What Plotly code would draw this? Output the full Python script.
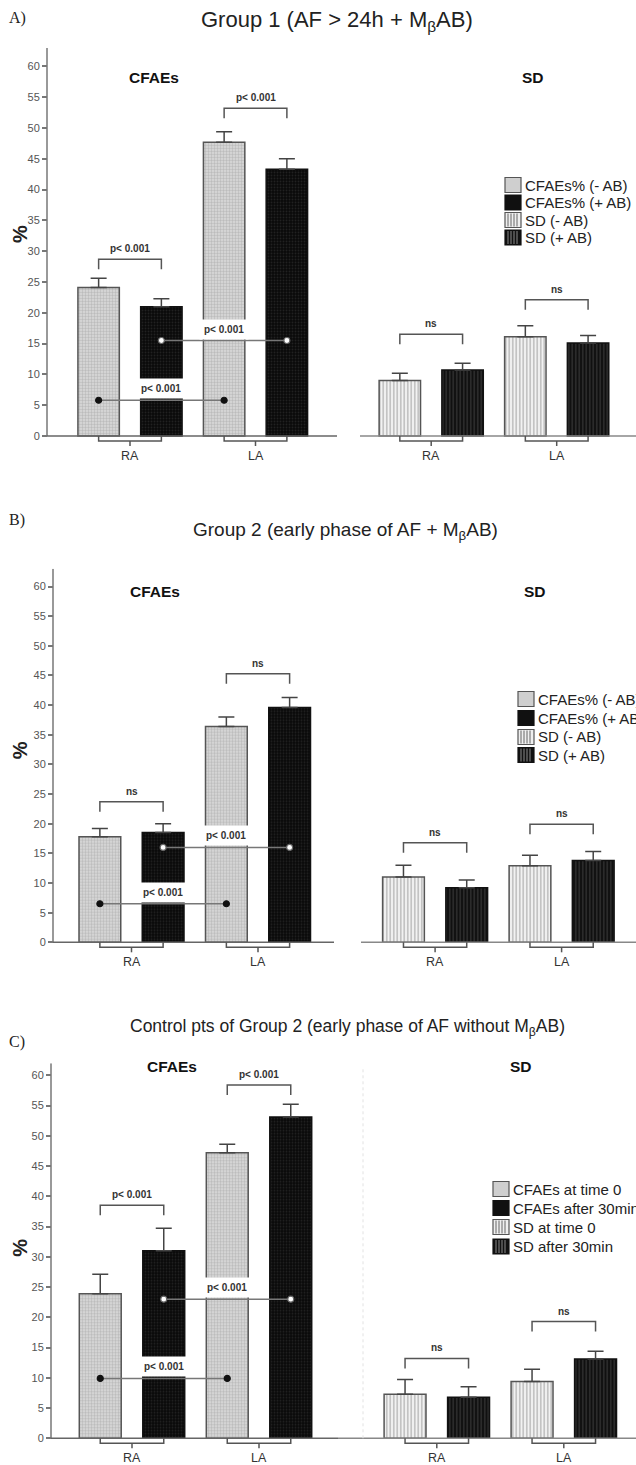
import plotly.graph_objects as go

W, H = 636, 1465
FONT = "Liberation Sans, Arial, sans-serif"

# ---------------- data ----------------
sites = ["RA", "LA"]

# Panel A: Group 1 (AF > 24h + MβAB)
a_cfae_minus = [24.1, 47.7]
a_cfae_minus_err = [1.5, 1.7]
a_cfae_plus = [21.0, 43.3]
a_cfae_plus_err = [1.3, 1.7]
a_sd_minus = [9.0, 16.1]
a_sd_minus_err = [1.2, 1.8]
a_sd_plus = [10.7, 15.1]
a_sd_plus_err = [1.1, 1.2]
a_cfae_pair_p = ["p< 0.001", "p< 0.001"]
a_sd_pair_p = ["ns", "ns"]
a_site_p = ["p< 0.001", "p< 0.001"]   # RA vs LA for (-) and (+) series

# Panel B: Group 2 (early phase of AF + MβAB)
b_cfae_minus = [17.8, 36.4]
b_cfae_minus_err = [1.4, 1.6]
b_cfae_plus = [18.5, 39.6]
b_cfae_plus_err = [1.5, 1.7]
b_sd_minus = [11.0, 12.9]
b_sd_minus_err = [2.0, 1.8]
b_sd_plus = [9.2, 13.8]
b_sd_plus_err = [1.3, 1.5]
b_cfae_pair_p = ["ns", "ns"]
b_sd_pair_p = ["ns", "ns"]
b_site_p = ["p< 0.001", "p< 0.001"]

# Panel C: Control pts of Group 2
c_cfae_minus = [23.9, 47.2]
c_cfae_minus_err = [3.2, 1.4]
c_cfae_plus = [31.0, 53.1]
c_cfae_plus_err = [3.7, 2.1]
c_sd_minus = [7.3, 9.4]
c_sd_minus_err = [2.4, 2.0]
c_sd_plus = [6.8, 13.1]
c_sd_plus_err = [1.7, 1.3]
c_cfae_pair_p = ["p< 0.001", "p< 0.001"]
c_sd_pair_p = ["ns", "ns"]
c_site_p = ["p< 0.001", "p< 0.001"]

legend_a = ["CFAEs% (- AB)", "CFAEs% (+ AB)", "SD (- AB)", "SD (+ AB)"]
legend_c = ["CFAEs at time 0", "CFAEs after 30min", "SD at time 0", "SD after 30min"]

# ---------------- layout constants ----------------
CFAE_POS = [0.0, 1.0]
SD_POS = [2.4, 3.4]
BW = 0.33
OFFS = [-0.415, 0.085]
HALF = 0.25  # centre of each bar relative to group centre

panels = [
    dict(tag="A)", title="Group 1 (AF > 24h + M<sub>β</sub>AB)", title_size=22,
         data=[(a_cfae_minus, a_cfae_minus_err), (a_cfae_plus, a_cfae_plus_err),
               (a_sd_minus, a_sd_minus_err), (a_sd_plus, a_sd_plus_err)],
         names=legend_a, cfae_p=a_cfae_pair_p, sd_p=a_sd_pair_p, site_p=a_site_p,
         cfae_br=[28.7, 53.2], sd_br=[16.5, 22.1], conn=[5.8, 15.5],
         zero_px=436, ppu=6.16, top=63, bottom=-5.5, c0=130, unit=125.5, axis_px=47,
         base_l=337, base_r=360, dotted=None,
         title_xy=(337, 21), tag_xy=(17, 18), cf_xy=(154, 78), sd_xy=(533, 78),
         pct_v=32.8, leg_x=505, leg_y=[185, 202.5, 220, 237.5]),
    dict(tag="B)", title="Group 2 (early phase of AF + M<sub>β</sub>AB)", title_size=19,
         data=[(b_cfae_minus, b_cfae_minus_err), (b_cfae_plus, b_cfae_plus_err),
               (b_sd_minus, b_sd_minus_err), (b_sd_plus, b_sd_plus_err)],
         names=legend_a, cfae_p=b_cfae_pair_p, sd_p=b_sd_pair_p, site_p=b_site_p,
         cfae_br=[23.7, 45.3], sd_br=[16.8, 19.9], conn=[6.5, 16.0],
         zero_px=942.3, ppu=5.93, top=63, bottom=-5.5, c0=131.5, unit=126.5, axis_px=53,
         base_l=334, base_r=361, dotted=None,
         title_xy=(345, 531), tag_xy=(17, 520), cf_xy=(155, 592), sd_xy=(535, 592),
         pct_v=32.4, leg_x=518, leg_y=[699, 718, 737, 755]),
    dict(tag="C)", title="Control pts of Group 2 (early phase of AF without M<sub>β</sub>AB)",
         title_size=17.5,
         data=[(c_cfae_minus, c_cfae_minus_err), (c_cfae_plus, c_cfae_plus_err),
               (c_sd_minus, c_sd_minus_err), (c_sd_plus, c_sd_plus_err)],
         names=legend_c, cfae_p=c_cfae_pair_p, sd_p=c_sd_pair_p, site_p=c_site_p,
         cfae_br=[38.5, 58.4], sd_br=[13.2, 19.3], conn=[9.9, 23.0],
         zero_px=1438.3, ppu=6.05, top=62, bottom=-4.4, c0=132, unit=127, axis_px=51,
         base_l=338, base_r=338, dotted=363,
         title_xy=(347, 1027), tag_xy=(17, 1042), cf_xy=(172, 1066), sd_xy=(521, 1066),
         pct_v=31.5, leg_x=493, leg_y=[1189, 1208, 1227, 1246.5]),
]

styles = [
    dict(color="#d8d8d8", line=dict(color="#555", width=1.5),
         pattern=dict(shape=".", fgcolor="#9a9a9a", bgcolor="#dcdcdc", size=3, solidity=0.5)),
    dict(color="#0a0a0a", line=dict(color="#111", width=1.5),
         pattern=dict(shape=".", fgcolor="#3c3c3c", bgcolor="#080808", size=3, solidity=0.35)),
    dict(color="#f0f0f0", line=dict(color="#555", width=1.5),
         pattern=dict(shape="|", fgcolor="#6a6a6a", bgcolor="#f2f2f2", size=3.5, solidity=0.35)),
    dict(color="#111", line=dict(color="#111", width=1.5),
         pattern=dict(shape="|", fgcolor="#8a8a8a", bgcolor="#101010", size=3.5, solidity=0.22)),
]
# legend swatch looks (fill, outline, stripe colour or None)
swatch = [("#cfcfcf", "#555", None), ("#101010", "#111", None),
          ("#efefef", "#555", "#666"), ("#111111", "#111", "#8a8a8a")]

fig = go.Figure()
shapes, annos = [], []
layout = dict(width=W, height=H, margin=dict(l=0, r=0, t=0, b=0, autoexpand=False),
              paper_bgcolor="white", plot_bgcolor="white", barmode="overlay", showlegend=False,
              font=dict(family=FONT, color="#222"))


def px2paper_x(px):
    return px / W


def px2paper_y(px):
    return 1 - px / H


for i, P in enumerate(panels):
    n = "" if i == 0 else str(i + 1)
    xa, ya = "x" + n, "y" + n
    ppu, zero = P["ppu"], P["zero_px"]
    top_px = zero - P["top"] * ppu
    bot_px = zero - P["bottom"] * ppu
    xr = [-P["c0"] / P["unit"], (W - P["c0"]) / P["unit"]]

    layout["xaxis" + n] = dict(domain=[0, 1], range=xr, visible=False, anchor=ya, fixedrange=True)
    layout["yaxis" + n] = dict(domain=[max(0, px2paper_y(bot_px)), px2paper_y(top_px)],
                               range=[P["bottom"], P["top"]], anchor="free",
                               position=px2paper_x(P["axis_px"]),
                               tickvals=list(range(0, 61, 5)), ticks="outside", ticklen=5,
                               tickwidth=1.5, tickcolor="#777", showline=False, showgrid=False,
                               zeroline=False, tickfont=dict(size=11, color="#555", family=FONT))

    # bars
    for s, (vals, errs) in enumerate(P["data"]):
        xs = CFAE_POS if s < 2 else SD_POS
        fig.add_trace(go.Bar(
            x=xs, y=vals, width=BW, offset=OFFS[s % 2], name=P["names"][s],
            xaxis=xa, yaxis=ya, marker=styles[s],
            error_y=dict(type="data", symmetric=False, array=errs, arrayminus=[0] * len(errs),
                         color="#444", thickness=1.5, width=8),
            hoverinfo="skip"))

    # y axis line
    shapes.append(dict(type="line", xref="paper", yref=ya, x0=px2paper_x(P["axis_px"]),
                       x1=px2paper_x(P["axis_px"]), y0=0, y1=P["top"],
                       line=dict(color="#777", width=1.5)))
    # baselines
    shapes.append(dict(type="line", xref="paper", yref=ya, x0=px2paper_x(P["axis_px"]),
                       x1=px2paper_x(P["base_l"]), y0=0, y1=0, line=dict(color="#666", width=1.5)))
    shapes.append(dict(type="line", xref="paper", yref=ya, x0=px2paper_x(P["base_r"]),
                       x1=1, y0=0, y1=0, line=dict(color="#888", width=1.5)))
    if P["dotted"]:
        shapes.append(dict(type="line", xref="paper", yref=ya, x0=px2paper_x(P["dotted"]),
                           x1=px2paper_x(P["dotted"]), y0=0, y1=P["top"] - 1,
                           line=dict(color="#e2e2e2", width=1, dash="dot")))

    drop = 10 / ppu
    # category brackets under axis + labels
    for pos, lab in zip(CFAE_POS + SD_POS, sites + sites):
        d1, d2 = 5 / ppu, 10 / ppu
        shapes.append(dict(type="path", xref=xa, yref=ya,
                           path=f"M{pos-HALF},0 L{pos-HALF},{-d1} L{pos+HALF},{-d1} L{pos+HALF},0",
                           line=dict(color="#555", width=1.5)))
        shapes.append(dict(type="line", xref=xa, yref=ya, x0=pos, x1=pos, y0=-d1, y1=-d2,
                           line=dict(color="#555", width=1.5)))
        annos.append(dict(x=pos, y=0, xref=xa, yref=ya, text=lab, showarrow=False,
                          xanchor="center", yanchor="middle", yshift=-20,
                          font=dict(size=12.5, color="#333", family=FONT)))

    # pair brackets with p-values
    for positions, labels, tops in [(CFAE_POS, P["cfae_p"], P["cfae_br"]),
                                    (SD_POS, P["sd_p"], P["sd_br"])]:
        for pos, lab, tp in zip(positions, labels, tops):
            shapes.append(dict(type="path", xref=xa, yref=ya,
                               path=f"M{pos-HALF},{tp-drop} L{pos-HALF},{tp} L{pos+HALF},{tp} L{pos+HALF},{tp-drop}",
                               line=dict(color="#555", width=1.5)))
            annos.append(dict(x=pos, y=tp, xref=xa, yref=ya, text=f"<b>{lab}</b>", showarrow=False,
                              xanchor="center", yanchor="bottom", yshift=3,
                              font=dict(size=10, color="#333", family=FONT)))

    # RA vs LA connectors
    for k, (v, lab) in enumerate(zip(P["conn"], P["site_p"])):
        sgn = -1 if k == 0 else 1
        xs = [CFAE_POS[0] + sgn * HALF, CFAE_POS[1] + sgn * HALF]
        fig.add_trace(go.Scatter(
            x=xs, y=[v, v], xaxis=xa, yaxis=ya, mode="lines+markers", showlegend=False,
            hoverinfo="skip", line=dict(color="#777", width=1.5),
            marker=dict(size=6, color="#111" if k == 0 else "white",
                        line=dict(color="#666" if k == 1 else "#111", width=1.2))))
        annos.append(dict(x=sum(xs) / 2, y=v, xref=xa, yref=ya, text=f"<b>{lab}</b>", showarrow=False,
                          xanchor="center", yanchor="bottom", yshift=1, bgcolor="white", borderpad=4,
                          font=dict(size=10, color="#333", family=FONT)))

    # legend (swatches + labels)
    sz = 16
    for s, (name, yc) in enumerate(zip(P["names"], P["leg_y"])):
        fill, edge, stripe = swatch[s]
        x0, x1 = P["leg_x"], P["leg_x"] + sz
        y0, y1 = yc - sz / 2 + 0.5, yc + sz / 2 - 0.5
        shapes.append(dict(type="rect", xref="paper", yref="paper",
                           x0=px2paper_x(x0), x1=px2paper_x(x1),
                           y0=px2paper_y(y1), y1=px2paper_y(y0),
                           fillcolor=fill, line=dict(color=edge, width=1.2)))
        if stripe:
            for xx in range(int(x0) + 3, int(x1) - 1, 3):
                shapes.append(dict(type="line", xref="paper", yref="paper",
                                   x0=px2paper_x(xx), x1=px2paper_x(xx),
                                   y0=px2paper_y(y1 - 1), y1=px2paper_y(y0 + 1),
                                   line=dict(color=stripe, width=1)))
        annos.append(dict(x=px2paper_x(x1 + 2), y=px2paper_y(yc), xref="paper", yref="paper",
                          text=name, showarrow=False, xanchor="left", yanchor="middle",
                          font=dict(size=15, color="#222", family=FONT)))

    # headers, titles
    annos.append(dict(x=px2paper_x(P["title_xy"][0]), y=px2paper_y(P["title_xy"][1]), xref="paper",
                      yref="paper", text=P["title"], showarrow=False, xanchor="center", yanchor="middle",
                      font=dict(size=P["title_size"], color="#222", family=FONT)))
    annos.append(dict(x=px2paper_x(P["tag_xy"][0]), y=px2paper_y(P["tag_xy"][1]), xref="paper",
                      yref="paper", text=P["tag"], showarrow=False, xanchor="center", yanchor="middle",
                      font=dict(size=16, color="#222", family="Liberation Serif, Times New Roman, serif")))
    annos.append(dict(x=px2paper_x(P["cf_xy"][0]), y=px2paper_y(P["cf_xy"][1]), xref="paper",
                      yref="paper", text="<b>CFAEs</b>", showarrow=False, xanchor="center", yanchor="middle",
                      font=dict(size=15.5, color="#111", family=FONT)))
    annos.append(dict(x=px2paper_x(P["sd_xy"][0]), y=px2paper_y(P["sd_xy"][1]), xref="paper",
                      yref="paper", text="<b>SD</b>", showarrow=False, xanchor="center", yanchor="middle",
                      font=dict(size=15.5, color="#111", family=FONT)))
    annos.append(dict(x=px2paper_x(20), y=P["pct_v"], xref="paper", yref=ya, text="<b>%</b>",
                      showarrow=False, textangle=-90, xanchor="center", yanchor="middle",
                      font=dict(size=20, color="#222", family=FONT)))

layout["shapes"] = shapes
layout["annotations"] = annos
fig.update_layout(**layout)
fig.write_html("out.html")
